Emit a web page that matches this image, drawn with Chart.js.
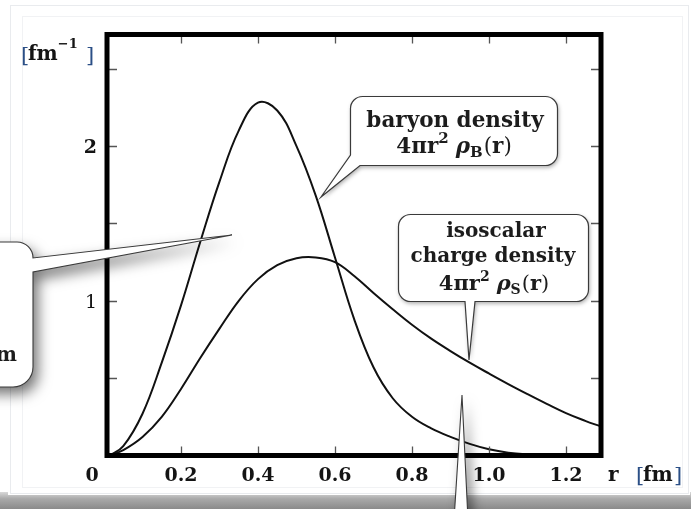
<!DOCTYPE html>
<html>
<head>
<meta charset="utf-8">
<script src="https://cdn.jsdelivr.net/npm/chart.js@4.4.1/dist/chart.umd.min.js"></script>
<style>
  html, body { margin: 0; padding: 0; background: #fff; }
  canvas { display: block; }
</style>
</head>
<body>
<canvas id="c" width="691" height="509"></canvas>
<script>
// radial distance r [fm]
const radius = [0.015, 0.05, 0.10, 0.15, 0.20, 0.25, 0.30, 0.35, 0.40, 0.45, 0.50, 0.55, 0.60,
                0.65, 0.70, 0.75, 0.80, 0.85, 0.90, 0.95, 1.00, 1.05, 1.10, 1.15, 1.20, 1.25, 1.29];
// 4πr² ρB(r) [fm^-1]
const baryonDensity = [0, 0.06, 0.27, 0.60, 0.97, 1.38, 1.77, 2.10, 2.28, 2.23, 2.00, 1.68, 1.28,
                       0.88, 0.57, 0.37, 0.25, 0.175, 0.12, 0.075, 0.04, 0.018, 0.007, 0.002, 0, 0, 0];
// 4πr² ρS(r) [fm^-1]
const isoscalarDensity = [0, 0.035, 0.12, 0.25, 0.43, 0.63, 0.82, 1.00, 1.14, 1.23, 1.275, 1.28, 1.25,
                          1.16, 1.05, 0.945, 0.845, 0.755, 0.675, 0.60, 0.53, 0.462, 0.397, 0.334, 0.274, 0.224, 0.188];

// axis ticks
const xTickValues = [0.2, 0.4, 0.6, 0.8, 1.0, 1.2];
const xTickLabels = ['0.2', '0.4', '0.6', '0.8', '1.0', '1.2'];
const yTickValues = [0.5, 1, 1.5, 2, 2.5];
const yLabelValues = [1, 2];
const yLabelTexts = ['1', '2'];

const SERIF = '"DejaVu Serif", "Liberation Serif", serif';

function pts(xs, ys) { return xs.map((x, i) => ({ x: x, y: ys[i] })); }

// draw a sequence of text runs (different fonts / raises) on one baseline
function runsWidth(ctx, runs) {
  let w = 0;
  runs.forEach(r => { ctx.font = r.font; w += ctx.measureText(r.t).width + (r.gap || 0); });
  return w;
}
function drawRuns(ctx, runs, x, base, align) {
  const w = runsWidth(ctx, runs);
  let cx = align === 'center' ? x - w / 2 : (align === 'right' ? x - w : x);
  runs.forEach(r => {
    ctx.font = r.font;
    ctx.textAlign = 'left';
    ctx.textBaseline = 'alphabetic';
    ctx.fillText(r.t, cx, base + (r.dy || 0));
    cx += ctx.measureText(r.t).width + (r.gap || 0);
  });
}

function bold(px) { return 'bold ' + px + 'px ' + SERIF; }
function reg(px) { return px + 'px ' + SERIF; }
function ital(px) { return 'italic bold ' + px + 'px ' + SERIF; }

function formula(sub, s) {
  return [
    { t: '4πr', font: bold(s) },
    { t: '2', font: bold(Math.round(s * 0.68)), dy: -Math.round(s * 0.45), gap: 7 },
    { t: 'ρ', font: ital(s) },
    { t: sub, font: bold(Math.round(s * 0.68)), dy: 4, gap: 1 },
    { t: '(', font: reg(s) },
    { t: 'r', font: bold(s) },
    { t: ')', font: reg(s) }
  ];
}

// rounded bubble outline with a pointer; the pointer replaces part of the outline
function bubblePath(ctx, x0, y0, x1, y1, r, tail) {
  ctx.beginPath();
  ctx.moveTo(x0 + r, y0);
  ctx.lineTo(x1 - r, y0);
  ctx.arcTo(x1, y0, x1, y0 + r, r);
  ctx.lineTo(x1, y1 - r);
  ctx.arcTo(x1, y1, x1 - r, y1, r);
  if (tail.side === 'bottom') {
    ctx.lineTo(tail.b, y1);
    ctx.lineTo(tail.tx, tail.ty);
    ctx.lineTo(tail.a, y1);
    ctx.lineTo(x0 + r, y1);
    ctx.arcTo(x0, y1, x0, y1 - r, r);
  } else if (tail.side === 'bottomleft') {
    ctx.lineTo(tail.b, y1);
    ctx.lineTo(tail.tx, tail.ty);
    ctx.lineTo(x0, tail.a);
  }
  ctx.lineTo(x0, y0 + r);
  ctx.arcTo(x0, y0, x0 + r, y0, r);
  ctx.closePath();
}

const decor = {
  id: 'decor',
  beforeDraw(chart) {
    const ctx = chart.ctx;
    ctx.save();
    // page and card
    ctx.fillStyle = '#ffffff';
    ctx.fillRect(0, 0, 691, 509);
    const g = ctx.createLinearGradient(0, 492, 0, 509);
    g.addColorStop(0, '#d9d9d9');
    g.addColorStop(0.4, '#a9a9a9');
    g.addColorStop(1, '#8a8a8a');
    ctx.fillStyle = g;
    ctx.fillRect(0, 492, 691, 17);
    ctx.fillStyle = '#ffffff';
    ctx.fillRect(8, 4, 682, 491);
    ctx.strokeStyle = '#e9ebee';
    ctx.lineWidth = 1;
    ctx.strokeRect(10.5, 5.5, 678, 488);
    ctx.strokeStyle = '#f1f2f4';
    ctx.strokeRect(22.5, 16.5, 660, 471);
    ctx.restore();
  },
  afterDatasetsDraw(chart) {
    const ctx = chart.ctx;
    const xs = chart.scales.x, ys = chart.scales.y;
    const a = chart.chartArea;
    ctx.save();

    // frame
    const fl = a.left + 3, fr = a.right, ft = a.top, fb = a.bottom;
    // ticks (inward, on all four sides)
    ctx.strokeStyle = '#555';
    ctx.lineWidth = 1.3;
    xTickValues.forEach(v => {
      const px = Math.round(xs.getPixelForValue(v)) + 0.5;
      ctx.beginPath();
      ctx.moveTo(px, fb); ctx.lineTo(px, fb - 9);
      ctx.moveTo(px, ft); ctx.lineTo(px, ft + 9);
      ctx.stroke();
    });
    yTickValues.forEach(v => {
      const py = Math.round(ys.getPixelForValue(v)) + 0.5;
      ctx.beginPath();
      ctx.moveTo(fl, py); ctx.lineTo(fl + 10, py);
      ctx.moveTo(fr, py); ctx.lineTo(fr - 10, py);
      ctx.stroke();
    });
    ctx.strokeStyle = '#000';
    ctx.lineWidth = 5;
    ctx.strokeRect(fl, ft, fr - fl, fb - ft);

    // tick labels
    ctx.fillStyle = '#141414';
    ctx.textBaseline = 'alphabetic';
    ctx.textAlign = 'center';
    ctx.font = bold(19);
    xTickValues.forEach((v, i) => {
      ctx.fillText(xTickLabels[i], xs.getPixelForValue(v), 481);
    });
    ctx.fillText('0', xs.getPixelForValue(0) - 12, 481);
    ctx.textAlign = 'right';
    yLabelValues.forEach((v, i) => {
      ctx.font = v === 1 ? reg(19) : bold(19);
      ctx.fillText(yLabelTexts[i], 97, ys.getPixelForValue(v) + 7);
    });

    // axis units
    ctx.fillStyle = '#141414';
    drawRuns(ctx, [{ t: 'r', font: bold(20) }], 608, 481, 'left');
    ctx.fillStyle = '#2b4f86';
    drawRuns(ctx, [{ t: '[', font: reg(21) }], 636, 482, 'left');
    ctx.fillStyle = '#141414';
    drawRuns(ctx, [{ t: 'fm', font: bold(20) }], 643, 481, 'left');
    ctx.fillStyle = '#2b4f86';
    drawRuns(ctx, [{ t: ']', font: reg(21) }], 674, 482, 'left');

    ctx.fillStyle = '#2b4f86';
    drawRuns(ctx, [{ t: '[', font: reg(21) }], 21, 62, 'left');
    ctx.fillStyle = '#141414';
    drawRuns(ctx, [{ t: 'fm', font: bold(20) }, { t: '−1', font: bold(13), dy: -12 }], 28, 60, 'left');
    ctx.fillStyle = '#2b4f86';
    drawRuns(ctx, [{ t: ']', font: reg(21) }], 86, 62, 'left');

    // callout: baryon density
    ctx.save();
    ctx.shadowColor = 'rgba(0,0,0,0.35)';
    ctx.shadowBlur = 4; ctx.shadowOffsetX = 1; ctx.shadowOffsetY = 2;
    bubblePath(ctx, 350.5, 96.5, 557.5, 165.5, 12, { side: 'bottomleft', a: 155, b: 360, tx: 321, ty: 197 });
    ctx.fillStyle = '#fff'; ctx.fill();
    ctx.restore();
    bubblePath(ctx, 350.5, 96.5, 557.5, 165.5, 12, { side: 'bottomleft', a: 155, b: 360, tx: 321, ty: 197 });
    ctx.strokeStyle = '#3a3a3a'; ctx.lineWidth = 1.2; ctx.stroke();
    ctx.fillStyle = '#1c1c1c';
    ctx.textAlign = 'center';
    ctx.font = bold(21.5);
    ctx.fillText('baryon density', 455, 127);
    drawRuns(ctx, formula('B', 21.5), 454, 153, 'center');

    // callout: isoscalar charge density
    ctx.save();
    ctx.shadowColor = 'rgba(0,0,0,0.35)';
    ctx.shadowBlur = 4; ctx.shadowOffsetX = 1; ctx.shadowOffsetY = 2;
    bubblePath(ctx, 398.5, 214.5, 588.5, 301.5, 12, { side: 'bottom', a: 465, b: 475, tx: 469, ty: 360 });
    ctx.fillStyle = '#fff'; ctx.fill();
    ctx.restore();
    bubblePath(ctx, 398.5, 214.5, 588.5, 301.5, 12, { side: 'bottom', a: 465, b: 475, tx: 469, ty: 360 });
    ctx.strokeStyle = '#3a3a3a'; ctx.lineWidth = 1.2; ctx.stroke();
    ctx.fillStyle = '#1c1c1c';
    ctx.textAlign = 'center';
    ctx.font = bold(20);
    ctx.fillText('isoscalar', 496, 237);
    ctx.fillText('charge density', 493, 262);
    drawRuns(ctx, formula('S', 21), 494, 290, 'center');

    // callout entering from the left edge
    const leftPath = () => {
      ctx.beginPath();
      ctx.moveTo(-40, 242);
      ctx.lineTo(17, 242);
      ctx.arcTo(33, 242, 33, 258, 16);
      ctx.lineTo(232, 235);
      ctx.lineTo(33, 272);
      ctx.lineTo(33, 367);
      ctx.arcTo(33, 387, 13, 387, 20);
      ctx.lineTo(-40, 387);
      ctx.closePath();
    };
    ctx.save();
    ctx.shadowColor = 'rgba(0,0,0,0.55)';
    ctx.shadowBlur = 14; ctx.shadowOffsetX = 5; ctx.shadowOffsetY = 7;
    leftPath(); ctx.fillStyle = '#fff'; ctx.fill();
    ctx.restore();
    leftPath(); ctx.strokeStyle = '#3a3a3a'; ctx.lineWidth = 1.1; ctx.stroke();
    ctx.fillStyle = '#1c1c1c';
    ctx.textAlign = 'right';
    ctx.font = bold(20);
    ctx.fillText('m', 17, 361);

    // pointer rising from below the card
    const lowPath = () => {
      ctx.beginPath();
      ctx.moveTo(454, 520);
      ctx.lineTo(462, 395);
      ctx.lineTo(468, 520);
      ctx.closePath();
    };
    ctx.save();
    ctx.shadowColor = 'rgba(0,0,0,0.5)';
    ctx.shadowBlur = 12; ctx.shadowOffsetX = 5; ctx.shadowOffsetY = 4;
    lowPath(); ctx.fillStyle = '#fff'; ctx.fill();
    ctx.restore();
    lowPath(); ctx.strokeStyle = '#3a3a3a'; ctx.lineWidth = 1.1; ctx.stroke();

    ctx.restore();
  }
};

new Chart(document.getElementById('c'), {
  type: 'line',
  data: {
    datasets: [
      { label: 'baryon density', data: pts(radius, baryonDensity) },
      { label: 'isoscalar charge density', data: pts(radius, isoscalarDensity) }
    ].map(d => Object.assign(d, {
      borderColor: '#111', borderWidth: 2, pointRadius: 0, fill: false,
      tension: 0.4
    }))
  },
  options: {
    responsive: false,
    animation: false,
    devicePixelRatio: 1,
    layout: { padding: { left: 104, right: 90, top: 34.5, bottom: 53.5 } },
    plugins: { legend: { display: false }, tooltip: { enabled: false } },
    scales: {
      x: { type: 'linear', min: 0, max: 1.291, display: false },
      y: { type: 'linear', min: 0, max: 2.721, display: false }
    }
  },
  plugins: [decor]
});
</script>
</body>
</html>
